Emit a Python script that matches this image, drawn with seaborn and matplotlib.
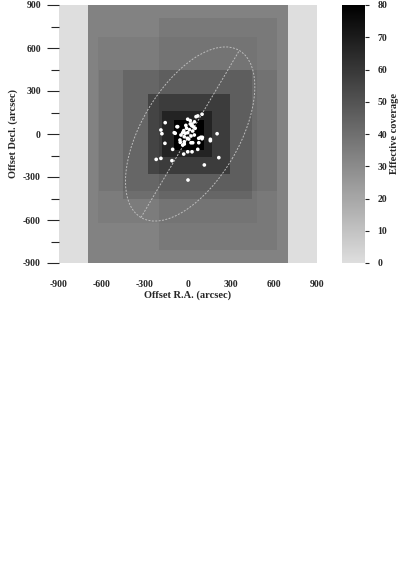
"""
Effective coverage map with source positions and ellipse.
"""
import numpy as np
import matplotlib
matplotlib.use('Agg')
import matplotlib.pyplot as plt
from matplotlib.colors import LinearSegmentedColormap
from matplotlib.patches import Ellipse
import seaborn as sns
import pandas as pd

sns.set_style("white")
plt.rcParams['font.family'] = ['Liberation Serif', 'DejaVu Serif']
plt.rcParams['font.weight'] = 'bold'
plt.rcParams['axes.unicode_minus'] = False

# ============================================================================
# DATA
# ============================================================================
# coverage layers (arcsec extents and depth added)
rect_x0 = [-700, -620, -200, -450, -630, -280, -175, -100]
rect_x1 = [700, 620, 620, 450, 480, 290, 175, 110]
rect_y0 = [-900, -400, -810, -450, -620, -275, -160, -105]
rect_y1 = [900, 450, 810, 450, 680, 285, 160, 105]
rect_depth = [33, 3, 3, 5, 2, 12, 9, 13]

# source offsets (arcsec)
ra_off = [-2, 16, 28, 26, 37, 68, 98, -159, -72, -189, -182, -96, -30, -37, -19,
          -2, -49, -26, 33, 21, 44, 75, 98, 156, 156, 203, -161, -54, -37, -26,
          21, 33, 75, 68, -107, -2, 28, -30, -222, -189, -112, 114, 215, 0,
          16, 56, -77, -89, -56, -26, 89, 100, -10, 10, -5, 50, 5, -15, 45]
dec_off = [103, 93, 70, 58, 51, 126, 138, 79, 51, 28, 2, 9, 23, 9, 5,
           9, -7, -19, 21, -14, -7, -30, -33, -37, -47, 2, -65, -58, -77, -70,
           -61, -61, -61, -107, -107, -124, -124, -140, -177, -170, -186, -216, -165, -321,
           70, 121, 51, 5, -42, -54, -23, -23, 40, 30, -30, 40, -35, 60, 85]

# ellipse (center, full axes, angle)
ell_center = (15, 0)
ell_width = 1352
ell_height = 680
ell_angle = 59.5

xticks = [-900, -600, -300, 0, 300, 600, 900]
yticks = [-900, -600, -300, 0, 300, 600, 900]
cbar_ticks = [0, 10, 20, 30, 40, 50, 60, 70, 80]

# ============================================================================
# COVERAGE GRID
# ============================================================================
step = 10
grid = np.arange(-900, 900, step) + step / 2
gx, gy = np.meshgrid(grid, grid)
coverage = np.zeros_like(gx, dtype=float)
for x0, x1, y0, y1, d in zip(rect_x0, rect_x1, rect_y0, rect_y1, rect_depth):
    coverage += d * ((gx >= x0) & (gx < x1) & (gy >= y0) & (gy < y1))

cmap = LinearSegmentedColormap.from_list('cov', ['#dedede', '#000000'])

# ============================================================================
# FIGURE
# ============================================================================
fig = plt.figure(figsize=(3.99, 5.66), dpi=100)
ax = fig.add_axes([59 / 399, 1 - 263 / 566, 258 / 399, 258 / 566])
cax = fig.add_axes([342 / 399, 1 - 263 / 566, 23 / 399, 258 / 566])

im = ax.imshow(coverage, extent=[-900, 900, -900, 900], origin='lower',
               cmap=cmap, vmin=0, vmax=80, interpolation='nearest', aspect='auto')

ell_style = dict(color='#bcbcbc', lw=0.7, linestyle=(0, (2, 1.5)))
ell = Ellipse(ell_center, ell_width, ell_height, angle=ell_angle, fill=False,
              edgecolor=ell_style['color'], lw=ell_style['lw'],
              linestyle=ell_style['linestyle'])
ax.add_patch(ell)
t = np.deg2rad(ell_angle)
ax.plot([ell_center[0] - ell_width / 2 * np.cos(t), ell_center[0] + ell_width / 2 * np.cos(t)],
        [ell_center[1] - ell_width / 2 * np.sin(t), ell_center[1] + ell_width / 2 * np.sin(t)],
        **ell_style)

src = pd.DataFrame({'ra': ra_off, 'dec': dec_off})
sns.scatterplot(data=src, x='ra', y='dec', ax=ax, color='white', s=7,
                edgecolor='none', linewidth=0, zorder=5)

ax.set_xlim(-900, 900)
ax.set_ylim(-900, 900)
ax.set_xticks(xticks)
ax.set_yticks(yticks)
ax.set_yticks(np.arange(-750, 900, 300), minor=True)
ax.tick_params(axis='y', which='major', direction='out', length=9, width=0.8,
               left=True, labelsize=7, pad=4)
ax.tick_params(axis='y', which='minor', direction='out', length=6, width=0.8, left=True)
ax.tick_params(axis='x', which='both', length=0, labelsize=7, pad=12)
for s in ax.spines.values():
    s.set_visible(False)
ax.set_xlabel('Offset R.A. (arcsec)', fontsize=7.5, fontweight='bold', labelpad=1)
ax.set_ylabel('Offset Decl. (arcsec)', fontsize=7.5, fontweight='bold', labelpad=4)

cb = fig.colorbar(im, cax=cax, ticks=cbar_ticks)
cb.outline.set_visible(False)
cb.ax.tick_params(length=3, width=0.8, labelsize=7, pad=6)
cb.set_label('Effective coverage', fontsize=7.5, fontweight='bold', labelpad=2)

plt.savefig('out.png', dpi=100)
plt.close()
